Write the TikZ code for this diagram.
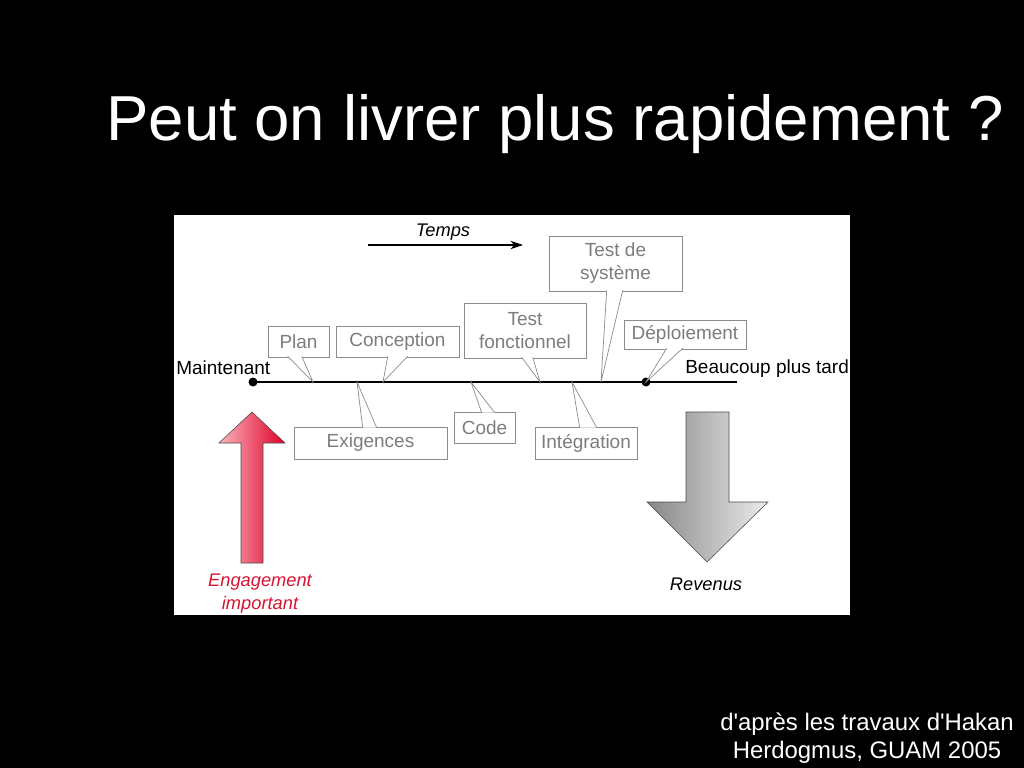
\documentclass[tikz,border=0pt]{standalone}
\usepackage{fontspec}
\setmainfont{Liberation Sans}
\usepackage{tikz}
\usetikzlibrary{calc, arrows.meta}
\definecolor{boxline}{RGB}{140,140,140}
\definecolor{boxtext}{RGB}{125,125,125}
\definecolor{engred}{RGB}{215,20,50}

\begin{document}
\begin{tikzpicture}[x=0.025cm, y=-0.025cm,
    phase/.style={draw=boxline, fill=white, text=boxtext, align=center,
      inner sep=0pt, font=\fontsize{13.5}{16.4}\selectfont},
    label/.style={inner sep=0pt, font=\fontsize{13.5}{16.4}\selectfont},
    pointer/.style={draw=boxline, line width=0.5pt}]
    \useasboundingbox (0,0) rectangle (1024,768);
    \fill[black] (0,0) rectangle (1024,768);
    \fill[white] (174,215) rectangle (850,615);
    \node[anchor=base, text=white, font=\fontsize{45.2}{54}\selectfont] (title) at (555,141) {Peut on livrer plus rapidement ?};
    % time axis
    \coordinate (tstart) at (368,245);
    \coordinate (tend) at (523,245);
    \draw[line width=1pt, -{Stealth[length=9pt,width=6pt]}] (tstart) -- (tend);
    \node[label, anchor=base, font=\fontsize{13}{16}\itshape] (temps) at (443,236) {Temps};
    \coordinate (now) at (253,382);
    \coordinate (later) at (646,382);
    \coordinate (lineend) at (737,382);
    \draw[line width=1.1pt] (now) -- (lineend);
    \fill (now) circle (4.5);
    \fill (later) circle (4.5);
    \node[label, anchor=base west] (maintenant) at (176,374) {Maintenant};
    \node[label, anchor=base west] (tard) at (685,373) {Beaucoup plus tard};
    % phases above the line
    \node[phase, minimum width=1.525cm, minimum height=0.775cm] (plan) at (298.5,341.5) {Plan};
    \node[phase, minimum width=3.075cm, minimum height=0.775cm] (conception) at (397.5,341.5) {Conception};
    \node[phase, minimum width=3.05cm, minimum height=1.375cm] (testf) at (525,330.5) {Test\\fonctionnel};
    \node[phase, minimum width=3.325cm, minimum height=1.375cm] (tests) at (615.5,263.5) {Test de\\système};
    \node[phase, minimum width=3.05cm, minimum height=0.725cm] (deploiement) at (685,334.5) {Déploiement};
    % phases below the line
    \node[phase, minimum width=3.825cm, minimum height=0.8cm] (exigences) at (370.5,443) {Exigences};
    \node[phase, minimum width=1.525cm, minimum height=0.775cm] (code) at (484.5,427.5) {Code};
    \node[phase, minimum width=2.55cm, minimum height=0.8cm] (integration) at (586,443) {Intégration};
    % pointers
    \coordinate (pplan) at (313,382);
    \coordinate (pconception) at (383,382);
    \coordinate (ptestf) at (540,382);
    \coordinate (ptests) at (601,382);
    \coordinate (pexigences) at (357,382);
    \coordinate (pcode) at (471,382);
    \coordinate (pintegration) at (572,382);
    \foreach \b/\l/\r/\t in {plan/20/34/pplan, conception/52/72/pconception,
        testf/58/69/ptestf, tests/58/74/ptests, deploiement/43/59/later} {
      \fill[white] ($(\b.south west)+(\l,-1)$) -- (\t) -- ($(\b.south west)+(\r,-1)$) -- cycle;
      \draw[pointer] ($(\b.south west)+(\l,-1)$) -- (\t) -- ($(\b.south west)+(\r,-1)$);
    }
    \foreach \b/\l/\r/\t in {exigences/69/83/pexigences, code/28/41/pcode,
        integration/45/62/pintegration} {
      \fill[white] ($(\b.north west)+(\l,1)$) -- (\t) -- ($(\b.north west)+(\r,1)$) -- cycle;
      \draw[pointer] ($(\b.north west)+(\l,1)$) -- (\t) -- ($(\b.north west)+(\r,1)$);
    }
    % big arrows
    \shade[left color={rgb,255:red,250;green,180;blue,190}, right color={rgb,255:red,225;green,0;blue,40}, draw=black!70, line width=0.4pt]
      (241,563) -- (241,443) -- (219,443) -- (252,412) -- (285,443) -- (263,443) -- (263,563) -- cycle;
    \shade[left color={rgb,255:red,135;green,135;blue,135}, right color={rgb,255:red,235;green,235;blue,235}, draw=black!70, line width=0.4pt]
      (686,412) -- (729,412) -- (729,502) -- (768,502) -- (707,562) -- (647,502) -- (686,502) -- cycle;
    \node[text=engred, align=center, font=\fontsize{13}{16.4}\itshape] (engagement) at (260,594) {Engagement\\important};
    \node[anchor=base, font=\fontsize{13}{16}\itshape] (revenus) at (706,590) {Revenus};
    % source
    \node[text=white, align=center, font=\fontsize{17}{20}\selectfont] (source) at (867,738) {d\textquotesingle après les travaux d\textquotesingle Hakan\\Herdogmus, GUAM 2005};
\end{tikzpicture}
\end{document}
